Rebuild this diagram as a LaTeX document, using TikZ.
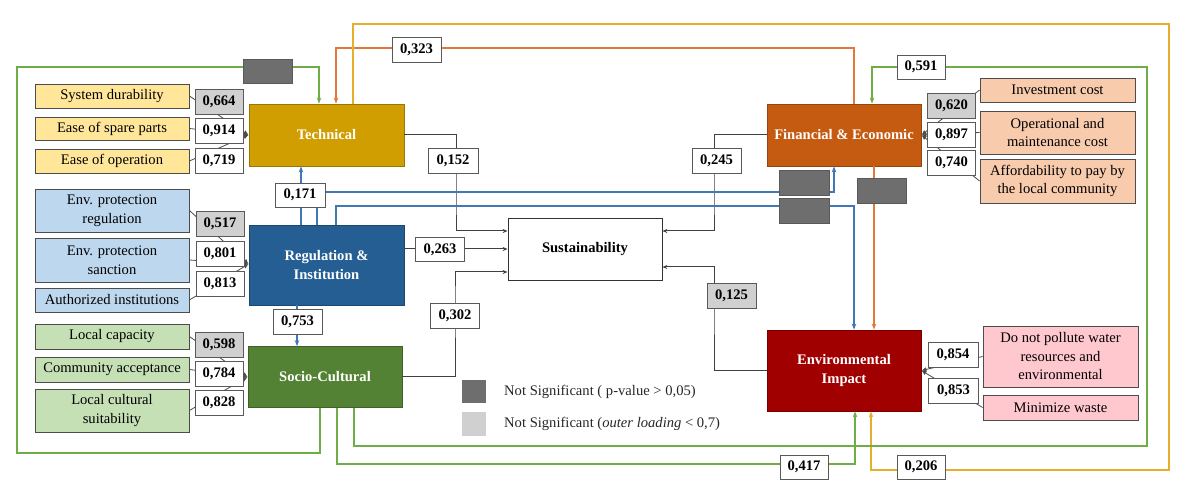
\documentclass[tikz,border=0pt]{standalone}
\usepackage{fontspec}
\setmainfont{Liberation Serif}
\usetikzlibrary{arrows.meta,positioning,backgrounds}
\definecolor{tec}{HTML}{D09E00}
\definecolor{reg}{HTML}{245E93}
\definecolor{soc}{HTML}{548235}
\definecolor{fin}{HTML}{C55A11}
\definecolor{env}{HTML}{A00000}
\definecolor{tecl}{HTML}{FFE699}
\definecolor{regl}{HTML}{BDD7EE}
\definecolor{socl}{HTML}{C5E0B4}
\definecolor{finl}{HTML}{F8CBAD}
\definecolor{envl}{HTML}{FFC7CE}
\definecolor{gline}{HTML}{70AD47}
\definecolor{oline}{HTML}{E2793A}
\definecolor{yline}{HTML}{E6AE2A}
\definecolor{bline}{HTML}{3F78B5}
\definecolor{dg}{HTML}{6E6E6E}
\definecolor{lg}{HTML}{D0D0D0}

\begin{document}
\fontsize{14.6}{18.5}\selectfont
\begin{tikzpicture}[x=1pt, y=-1pt, >=Latex,
  con/.style={draw, line width=0.8pt, minimum width=155pt, minimum height=62pt, font=\bfseries, text=white, align=center, inner sep=1pt},
  ind/.style={draw=black!70, line width=0.8pt, minimum width=154pt, minimum height=24pt, align=center, inner sep=1pt},
  tall/.style={minimum height=43pt},
  ld/.style={draw=black!65, line width=0.8pt, fill=white, minimum width=48pt, minimum height=25pt, font=\bfseries, inner sep=0pt},
  ldg/.style={ld, fill=lg},
  ns/.style={draw=black!65, line width=0.8pt, fill=dg, minimum width=50pt, minimum height=25pt},
  lv/.style={draw=black!70, line width=0.8pt, -{Latex[length=5pt,width=4.5pt]}},
  e/.style={line width=1.6pt, -{Stealth[length=6pt,width=4.5pt]}},
  s/.style={draw=black!75, line width=1pt, -{Stealth[length=5pt,width=4pt]}}
]
\useasboundingbox (0,0) rectangle (1183,502);
% constructs
\node[con, fill=tec, draw=tec!75!black] (tech) at (326.5,135) {Technical};
\node[con, fill=reg, draw=reg!75!black, minimum height=80pt] (reg) at (326.5,265) {Regulation \&\\Institution};
\node[con, fill=soc, draw=soc!75!black, minimum width=154pt, minimum height=61pt] (soc) at (325,377) {Socio-Cultural};
\node[con, fill=white, draw=black!80, text=black, minimum width=154pt] (sust) at (585,249) {Sustainability};
\node[con, fill=fin, draw=fin!75!black, minimum width=154pt] (fin) at (844,135) {Financial \& Economic};
\node[con, fill=env, draw=env!75!black, minimum width=154pt, minimum height=81pt] (env) at (844,370.5) {Environmental\\Impact};
% indicators
\node[ind, fill=tecl] (sd)  at (112,96)    {System durability};
\node[ind, fill=tecl, minimum height=23pt] (esp) at (112,128.5) {Ease of spare parts};
\node[ind, fill=tecl] (eo)  at (112,161)   {Ease of operation};
\node[ind, tall, fill=regl] (epr) at (112,210.5) {Env. protection\\regulation};
\node[ind, tall, fill=regl, minimum height=44pt] (eps) at (112,260) {Env. protection\\sanction};
\node[ind, fill=regl] (ai)  at (112,300)   {Authorized institutions};
\node[ind, fill=socl, minimum height=25pt] (lc)  at (112,336.5) {Local capacity};
\node[ind, fill=socl, minimum height=25pt] (ca)  at (112,369.5) {Community acceptance};
\node[ind, tall, fill=socl] (lcs) at (112,410.5) {Local cultural\\suitability};
\node[ind, fill=finl, minimum width=155pt] (ic)  at (1057.5,90) {Investment cost};
\node[ind, tall, fill=finl, minimum width=155pt] (omc) at (1057.5,132.5) {Operational and\\maintenance cost};
\node[ind, tall, fill=finl, minimum width=155pt, minimum height=44pt] (aff) at (1057.5,181) {Affordability to pay by\\the local community};
\node[ind, fill=envl, minimum width=155pt, minimum height=61pt] (dnp) at (1060.5,356.5) {Do not pollute water\\resources and\\environmental};
\node[ind, fill=envl, minimum width=155pt, minimum height=25pt] (mw)  at (1060.5,407.5) {Minimize waste};
% outer loadings
\draw[lv] (sd.east) -- (tech.west);
\draw[lv] (esp.east) -- (tech.west);
\draw[lv] (eo.east) -- (tech.west);
\draw[lv] (epr.east) -- ([yshift=1pt]reg.west);
\draw[lv] (eps.east) -- ([yshift=1pt]reg.west);
\draw[lv] (ai.east) -- ([yshift=1pt]reg.west);
\draw[lv] (lc.east) -- (soc.west);
\draw[lv] (ca.east) -- (soc.west);
\draw[lv] (lcs.east) -- (soc.west);
\draw[lv] (ic.west) -- (fin.east);
\draw[lv] (omc.west) -- (fin.east);
\draw[lv] (aff.west) -- (fin.east);
\draw[lv] (dnp.west) -- (env.east);
\draw[lv] (mw.west) -- (env.east);
\node[ldg] (l664) at (219,101.5) {0,664};
\node[ld]  (l914) at (219,131)   {0,914};
\node[ld]  (l719) at (219,160.5) {0,719};
\node[ldg] (l517) at (220,223.5) {0,517};
\node[ld]  (l801) at (220,253.5) {0,801};
\node[ld]  (l813) at (220,284)   {0,813};
\node[ldg] (l598) at (219,345)   {0,598};
\node[ld]  (l784) at (219,374)   {0,784};
\node[ld]  (l828) at (219,402.5) {0,828};
\node[ldg] (l620) at (951.5,106) {0,620};
\node[ld]  (l897) at (951.5,134.5) {0,897};
\node[ld]  (l740) at (951.5,163) {0,740};
\node[ld, minimum width=50pt] (l854) at (953,354.5) {0,854};
\node[ld, minimum width=50pt] (l853) at (953.5,391) {0,853};
% paths to sustainability
\draw[s] (tech.east) -| (456,200) |- ([yshift=18pt]sust.west);
\draw[s] (reg.east |- sust.west) -- (sust.west);
\draw[s] (soc.east) -| (455,300) |- ([yshift=-23pt]sust.west);
\draw[s] (fin.west) -| (714,200) |- ([yshift=18pt]sust.east);
\draw[s] (env.west) -| (714,300) |- ([yshift=-18pt]sust.east);
% paths between constructs
\draw[e, draw=oline] ([xshift=10pt]fin.north) |- (600,48) -| ([xshift=9.5pt]tech.north);
\draw[e, draw=yline] ([xshift=26.5pt]tech.north) |- (1169,24) |- (1000,470) -| ([xshift=27pt]env.south);
\draw[e, draw=gline] ([xshift=-5pt]soc.south) |- (17,453) |- (200,67) -| ([xshift=-7.5pt]tech.north);
\draw[e, draw=gline] ([xshift=29pt]soc.south) |- (1147,446) |- (1000,67) -| ([xshift=28pt]fin.north);
\draw[e, draw=gline] ([xshift=12pt]soc.south) |- (600,464) -| ([xshift=11pt]env.south);
\draw[e, draw=bline] ([xshift=-25.5pt]reg.north) -- ([xshift=-25.5pt]tech.south);
\draw[e, draw=bline] ([xshift=-9.5pt]reg.north) |- (600,192) -| ([xshift=-10pt]fin.south);
\draw[e, draw=bline] ([xshift=9.5pt]reg.north) |- (600,206) -| ([xshift=10pt]env.north);
\draw[e, draw=bline] ([xshift=-29.5pt]reg.south) -- ([xshift=-28pt]soc.north);
\draw[e, draw=oline] ([xshift=30pt]fin.south) -- ([xshift=30pt]env.north);
% path coefficients
\node[ld, minimum width=49pt] (p323) at (416.5,49.5) {0,323};
\node[ld, minimum width=50pt] (p152) at (453,160.5) {0,152};
\node[ld, minimum width=49pt] (p245) at (716.5,160.5) {0,245};
\node[ld, minimum width=49pt, minimum height=24pt] (p263) at (440,249.5) {0,263};
\node[ld, minimum width=49pt] (p302) at (455,315.5) {0,302};
\node[ldg, minimum width=49pt] (p125) at (731.5,295.5) {0,125};
\node[ld, minimum width=50pt, minimum height=24pt] (p171) at (300,195) {0,171};
\node[ld, minimum width=49pt] (p753) at (297.5,321.5) {0,753};
\node[ld, minimum height=24pt] (p591) at (921,67) {0,591};
\node[ld, minimum height=24pt] (p417) at (804,467) {0,417};
\node[ld, minimum height=24pt] (p206) at (921,467) {0,206};
\node[ns, minimum width=49pt, minimum height=24pt] (ns1) at (267.5,71) {};
\node[ns] (ns2) at (804,182.5) {};
\node[ns] (ns3) at (804,210.5) {};
\node[ns, minimum width=49pt] (ns4) at (881.5,190.5) {};
% legend
\node[fill=dg, minimum width=24pt, minimum height=23pt, inner sep=0pt] (kd) at (474,391.5) {};
\node[fill=lg, minimum width=24pt, minimum height=24pt, inner sep=0pt] (kl) at (474,424) {};
\node[anchor=west, text=black!85, inner sep=0pt] (td) at (504,391.5) {Not Significant ( p-value > 0,05)};
\node[anchor=west, text=black!85, inner sep=0pt] (tl) at (504,424) {Not Significant (\textit{outer loading} < 0,7)};
\end{tikzpicture}
\end{document}
